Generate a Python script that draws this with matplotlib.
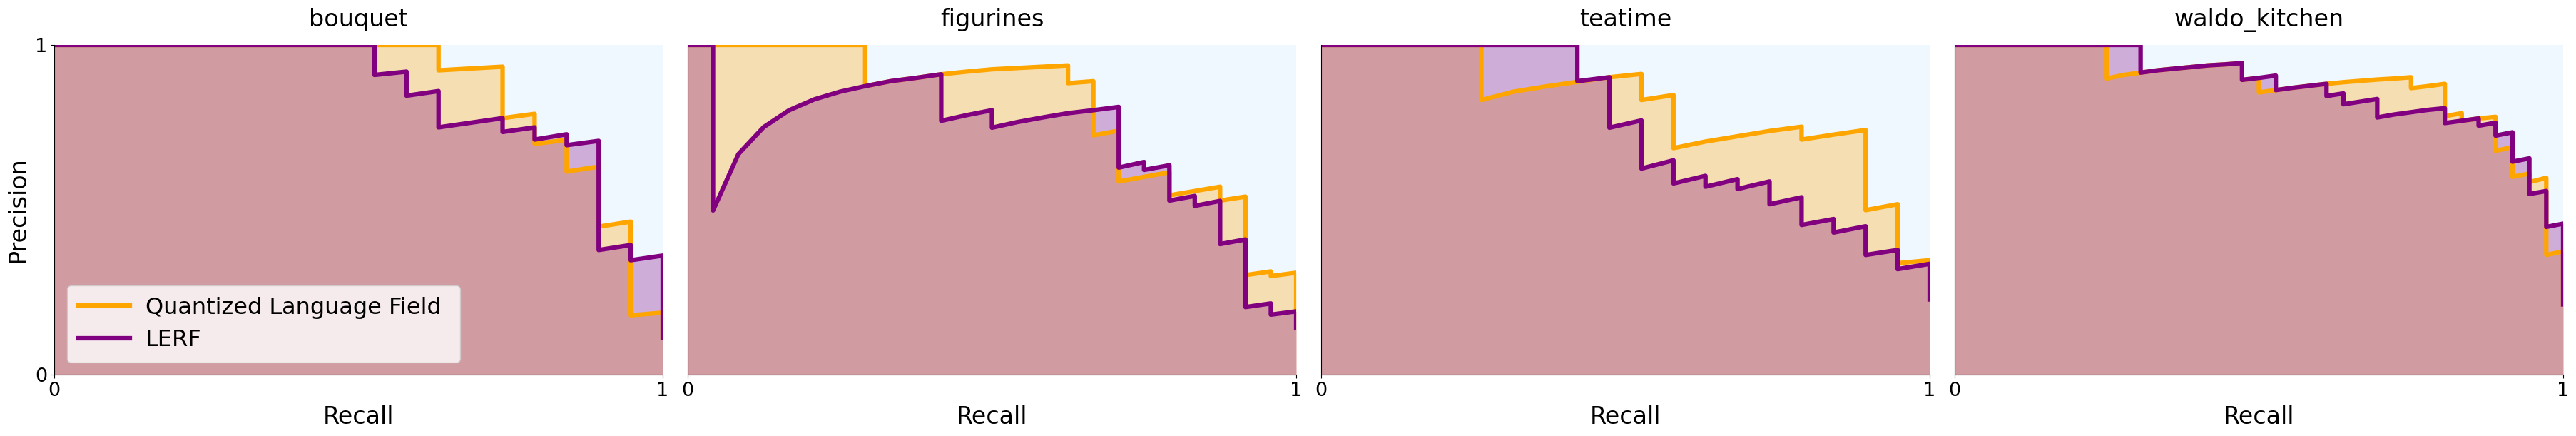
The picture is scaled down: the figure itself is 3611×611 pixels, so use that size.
import matplotlib
matplotlib.use("Agg")
import matplotlib.pyplot as plt
import numpy as np

# precision / recall, recall given as k / n
scenes = ["bouquet", "figurines", "teatime", "waldo_kitchen"]
counts = [19, 24, 19, 36]

bouquet_ql_k = [0, 12, 12, 14, 14, 15, 15, 16, 16, 17, 17, 18, 18, 19, 19]
bouquet_ql_p = [1, 1, .923, .934, .778, .791, .700, .712, .616, .631, .449, .464, .180, .188, .112]
bouquet_lerf_k = [0, 10, 10, 11, 11, 12, 12, 14, 14, 15, 15, 16, 16, 17, 17, 18, 18, 19, 19]
bouquet_lerf_p = [1, 1, .909, .919, .846, .860, .750, .778, .736, .750, .713, .729, .696, .709, .378, .393, .347, .361, .112]

figurines_ql_k = [0, 7, 7, 8, 9, 10, 11, 12, 13, 14, 15, 15, 16, 16, 17, 17, 18, 19, 19, 20, 21, 21, 22, 22, 23, 23, 24, 24]
figurines_ql_p = [1, 1, .875, .890, .900, .911, .919, .926, .930, .934, .938, .884, .890, .726, .740, .586, .600, .614,
                  .544, .557, .570, .528, .540, .302, .313, .299, .309, .142]
figurines_lerf_k = [0, 1, 1, 2, 3, 4, 5, 6, 7, 8, 9, 10, 10, 11, 12, 12, 13, 14, 15, 16, 17, 17, 18, 18, 19, 19, 20, 20,
                    21, 21, 22, 22, 23, 23, 24, 24]
figurines_lerf_p = [1, 1, .498, .669, .751, .802, .835, .858, .875, .890, .900, .911, .770, .787, .802, .749, .766, .780,
                    .793, .802, .812, .628, .645, .621, .635, .528, .542, .512, .527, .396, .410, .205, .216, .182, .192, .142]

teatime_ql_k = [0, 5, 5, 6, 7, 8, 9, 10, 10, 11, 11, 12, 13, 14, 15, 15, 16, 17, 17, 18, 18, 19, 19]
teatime_ql_p = [1, 1, .833, .858, .874, .888, .902, .912, .833, .848, .687, .707, .723, .739, .752, .713, .728, .742,
                .499, .517, .338, .347, .228]
teatime_lerf_k = [0, 8, 8, 9, 9, 10, 10, 11, 11, 12, 12, 13, 13, 14, 14, 15, 15, 16, 16, 17, 17, 18, 18, 19, 19]
teatime_lerf_p = [1, 1, .890, .902, .749, .771, .625, .650, .580, .603, .570, .593, .563, .586, .517, .538, .454, .472,
                  .431, .450, .363, .378, .320, .336, .228]

waldo_ql_k = [0, 9, 9, 10, 11, 12, 13, 14, 15, 16, 17, 17, 18, 18, 19, 19, 20, 21, 22, 23, 24, 25, 26, 27, 27, 28, 29, 29,
              30, 30, 31, 32, 32, 33, 33, 34, 34, 35, 35, 36, 36]
waldo_ql_p = [1, 1, .898, .909, .916, .923, .928, .933, .938, .941, .945, .894, .900, .856, .863, .863, .870, .876, .882,
              .887, .891, .895, .898, .902, .869, .875, .882, .784, .793, .770, .777, .782, .679, .690, .600, .610, .584,
              .597, .363, .374, .213]
waldo_lerf_k = [0, 11, 11, 12, 13, 14, 15, 16, 17, 17, 18, 19, 19, 20, 21, 22, 22, 23, 23, 24, 25, 25, 26, 27, 28, 29, 29,
                30, 31, 31, 32, 32, 33, 33, 34, 34, 35, 35, 36, 36]
waldo_lerf_p = [1, 1, .916, .923, .928, .933, .938, .941, .945, .894, .900, .907, .863, .870, .876, .882, .845, .853, .820,
                .828, .836, .780, .789, .796, .803, .808, .763, .770, .777, .755, .764, .725, .735, .646, .656, .548, .557,
                .448, .458, .213]

ql_curves = [(bouquet_ql_k, bouquet_ql_p), (figurines_ql_k, figurines_ql_p), (teatime_ql_k, teatime_ql_p), (waldo_ql_k, waldo_ql_p)]
lerf_curves = [(bouquet_lerf_k, bouquet_lerf_p), (figurines_lerf_k, figurines_lerf_p), (teatime_lerf_k, teatime_lerf_p), (waldo_lerf_k, waldo_lerf_p)]

W, H = 3611, 611
lefts = [76, 964, 1852, 2740]

fig = plt.figure(figsize=(W / 100, H / 100), dpi=100)

for i, name in enumerate(scenes):
    ax = fig.add_axes([lefts[i] / W, (611 - 525) / H, 853 / W, 462 / H])
    ax.set_facecolor("aliceblue")

    n = counts[i]
    ql_x = np.array(ql_curves[i][0]) / n
    lerf_x = np.array(lerf_curves[i][0]) / n

    ax.plot(ql_x, ql_curves[i][1], color="orange", lw=4.5, label="Quantized Language Field")
    ax.fill_between(ql_x, ql_curves[i][1], color="orange", alpha=0.3, lw=0)
    ax.plot(lerf_x, lerf_curves[i][1], color="purple", lw=4.5, label="LERF")
    ax.fill_between(lerf_x, lerf_curves[i][1], color="purple", alpha=0.3, lw=0)

    ax.set_xlim(0, 1)
    ax.set_ylim(0, 1)
    ax.set_xticks([0, 1])
    ax.set_xticklabels(["0", "1"])
    ax.tick_params(labelsize=19.5)
    ax.spines["top"].set_visible(False)
    ax.spines["right"].set_visible(False)
    ax.set_title(name, fontsize=24, pad=19)
    ax.set_xlabel("Recall", fontsize=24, labelpad=5)

    if i == 0:
        ax.set_yticks([0, 1])
        ax.set_yticklabels(["0", "1"])
        ax.set_ylabel("Precision", fontsize=24, labelpad=5)
        # box is wider than its text in the reference, so stretch it to a fixed width
        ax.legend(loc="lower left", bbox_to_anchor=(0.021, 0.037, 0.646, 0.236), mode="expand", borderaxespad=0,
                  fontsize=23, handlelength=2.25, handletextpad=0.7, borderpad=0.5, labelspacing=0.45)
    else:
        ax.set_yticks([])

fig.savefig("out.png", dpi=100)
